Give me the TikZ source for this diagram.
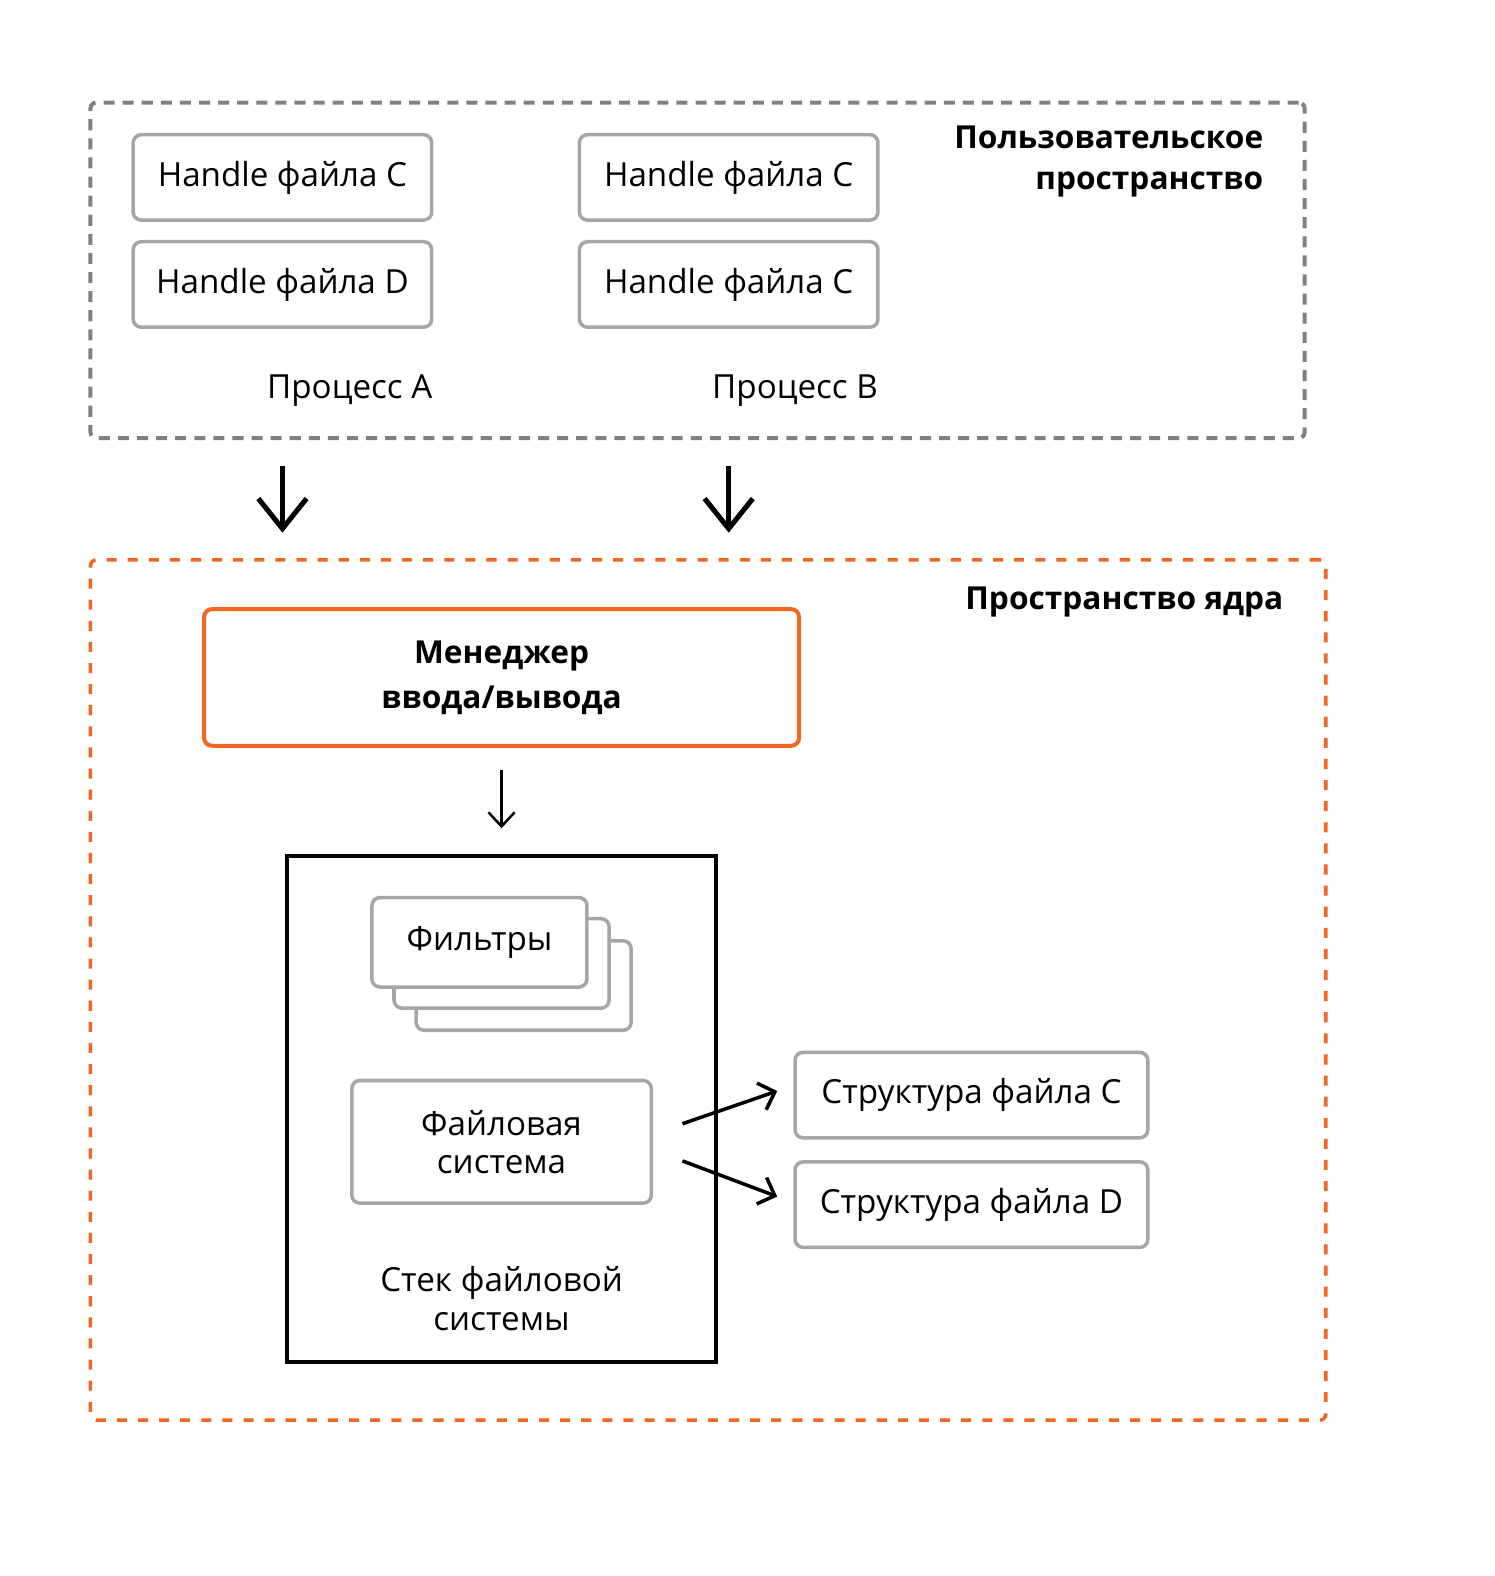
\documentclass[tikz,border=0pt]{standalone}
\usepackage{fontspec}
\setmainfont{Open Sans}
\usetikzlibrary{arrows.meta}
\definecolor{dgray}{HTML}{808080}
\definecolor{bgray}{HTML}{A6A6A6}
\definecolor{orng}{HTML}{F26522}
\begin{document}
\begin{tikzpicture}[x=1pt,y=-1pt,
  font=\fontsize{33}{38}\selectfont,
  hbox/.style={draw=bgray, line width=3.5pt, rounded corners=8pt, minimum width=297pt, minimum height=85pt, inner sep=0pt, fill=white},
  userframe/.style={draw=dgray, line width=4pt, dash pattern=on 11pt off 8pt, rounded corners=6pt, minimum width=1208pt, minimum height=334pt, inner sep=0pt},
  kframe/.style={draw=orng, line width=3.5pt, dash pattern=on 10pt off 11pt, rounded corners=6pt, minimum width=1229pt, minimum height=856pt, inner sep=0pt},
  bigarrow/.style={line width=5pt, -{Straight Barb[length=30pt,width=48pt]}},
  smallarrow/.style={line width=2.5pt, -{Straight Barb[length=14pt,width=26pt]}},
  diagarrow/.style={line width=3.5pt, -{Straight Barb[length=14pt,width=28pt]}},
  title/.style={font=\fontsize{31.5}{41}\selectfont\bfseries, align=right, inner sep=0pt},
  plain/.style={inner sep=0pt, align=center}
]
\useasboundingbox (0,0) rectangle (1487,1568);

% user space
\node[userframe] (user) at (694,269) {};
\node[hbox] (ha1) at (281,176.5) {Handle файла C};
\node[hbox] (ha2) at (281,283) {Handle файла D};
\node[hbox] (hb1) at (725,176.5) {Handle файла C};
\node[hbox] (hb2) at (725,283) {Handle файла C};
\node[plain] (pa) at (348,389) {Процесс A};
\node[plain] (pb) at (791,389) {Процесс B};
\node[title, anchor=north east] (utitle) at (1257,125) {Пользовательское\\пространство};

% arrows between spaces
\coordinate (a1s) at (281,464);
\coordinate (a1e) at (281,530);
\coordinate (a2s) at (725,464);
\coordinate (a2e) at (725,530);
\draw[bigarrow] (a1s) -- (a1e);
\draw[bigarrow] (a2s) -- (a2e);

% kernel space
\node[kframe] (kernel) at (704.5,985) {};
\node[title, anchor=north east] (ktitle) at (1277,584) {Пространство ядра};

\node[draw=orng, line width=4pt, rounded corners=8pt, minimum width=592pt, minimum height=136pt, inner sep=0pt,
  font=\fontsize{31.5}{45}\selectfont\bfseries, align=center] (iom) at (499,674) {Менеджер\\ввода/вывода};

\coordinate (s1s) at (499,766);
\coordinate (s1e) at (499,824);
\draw[smallarrow] (s1s) -- (s1e);

\node[draw=black, line width=4pt, minimum width=426pt, minimum height=503pt, inner sep=0pt] (stack) at (499,1103.5) {};

\node[hbox, minimum width=214pt, minimum height=89pt] (f3) at (521,980.5) {};
\node[hbox, minimum width=214pt, minimum height=89pt] (f2) at (499,958.5) {};
\node[hbox, minimum width=214pt, minimum height=89pt] (f1) at (477,937.5) {Фильтры};

\node[hbox, minimum width=298pt, minimum height=122pt, align=center] (fs) at (499,1136) {Файловая\\система};

\node[plain] (stxt) at (499,1292) {Стек файловой\\системы};

\node[hbox, minimum width=351pt, minimum height=85pt] (sc) at (966.5,1089.5) {Структура файла C};
\node[hbox, minimum width=351pt, minimum height=85pt] (sd) at (966.5,1198.5) {Структура файла D};

\coordinate (d1s) at (679,1118);
\coordinate (d1e) at ([xshift=-16pt,yshift=4pt]sc.west);
\coordinate (d2s) at (679,1155);
\coordinate (d2e) at ([xshift=-16pt,yshift=8pt]sd.west);
\draw[diagarrow] (d1s) -- (d1e);
\draw[diagarrow] (d2s) -- (d2e);
\end{tikzpicture}
\end{document}
